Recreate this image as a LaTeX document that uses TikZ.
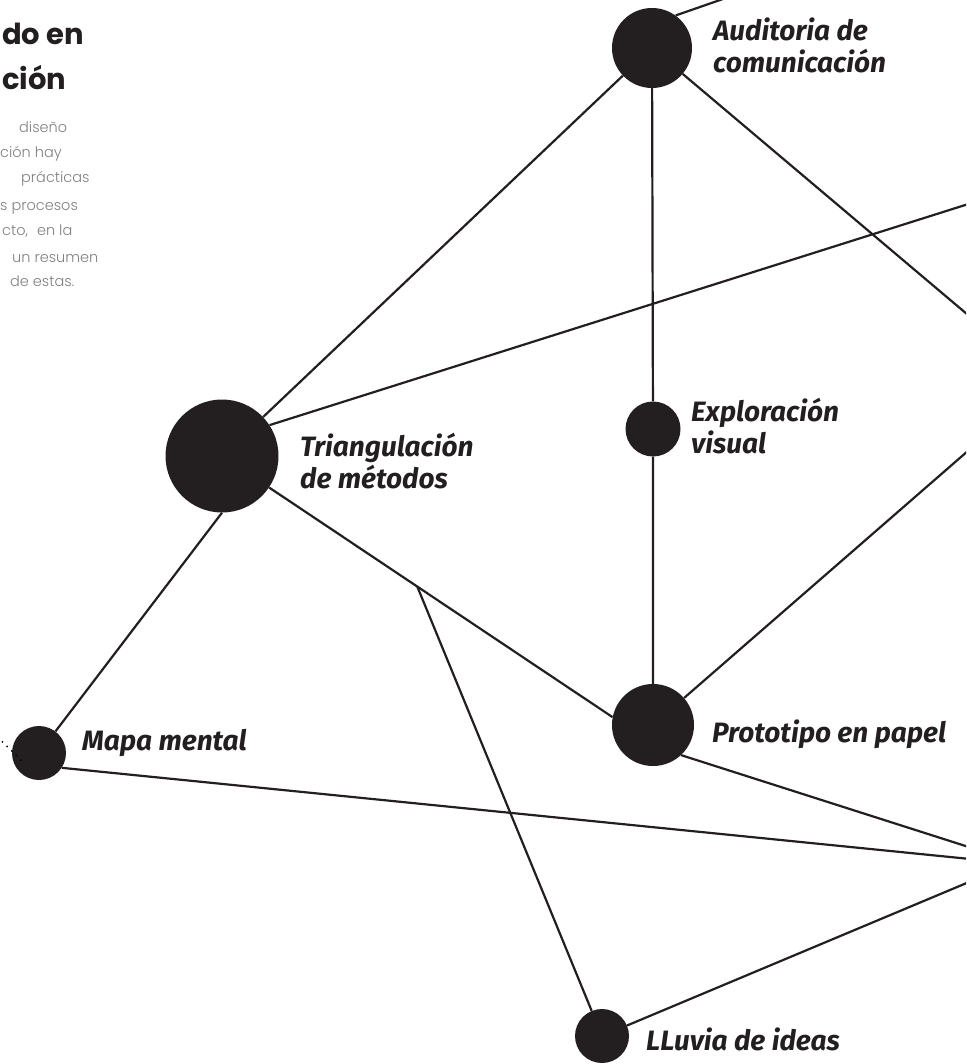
\documentclass[tikz,border=0pt]{standalone}
\usepackage{fontspec}
\setmainfont{Fira Sans}
\newfontfamily\headfont{Poppins}
\newfontfamily\bodyfont{Poppins}[UprightFont=* Light]
\usepackage{tikz}
\usetikzlibrary{
  calc,
  positioning
}
\definecolor{ink}{HTML}{231F20}
\colorlet{bodygrey}{black!50}
\tikzset{
  spot/.style={circle,fill=ink,inner sep=0pt},
  link/.style={draw=ink,line width=2.2pt},
  dots/.style={draw=black,line width=2pt,line cap=round,dash pattern=on 0pt off 6.5pt},
  tag/.style={font=\fontsize{28}{32}\selectfont\bfseries\itshape,text=ink,
    align=left,anchor=base west,inner sep=0pt},
  heading/.style={font=\headfont\bfseries\fontsize{29}{34}\selectfont,text=ink,
    anchor=base west,inner sep=0pt},
  blurb/.style={font=\bodyfont\fontsize{14.5}{18}\selectfont,text=bodygrey,
    anchor=base west,inner sep=0pt},
}

\begin{document}
\begin{tikzpicture}[x=1pt,y=-1pt]
\useasboundingbox (0,0) rectangle (966,1064);
\clip (0,0) rectangle (966,1064);
% title and intro, cut at the left edge
\node[heading] (head1) at (2,45) {do en};
\node[heading] (head2) at (2,90) {ción};
\node[blurb] (intro1) at (19,133) {diseño};
\node[blurb] (intro2) at (0,158) {ción hay};
\node[blurb] (intro3) at (21,183) {prácticas};
\node[blurb] (intro4) at (0,211) {s procesos};
\node[blurb] (intro5) at (2,236) {cto,\hspace{5pt} en la};
\node[blurb] (intro6) at (12,262) {un resumen};
\node[blurb] (intro7) at (10,287) {de estas.};
% methods
\node[spot,minimum size=80pt] (audit) at (652,48) {};
\node[spot,minimum size=113pt] (tri) at (222,456) {};
\node[spot,minimum size=55pt] (expl) at (653,429) {};
\node[spot,minimum size=82pt] (proto) at (653,725) {};
\node[spot,minimum size=54pt] (mapa) at (39,753) {};
\node[spot,minimum size=54pt] (lluvia) at (602,1036) {};
% base of a two-line tag is its second line
\node[tag] (audit-lbl) at (713,73) {Auditoria de\\comunicación};
\node[tag] (tri-lbl) at (300,488) {Triangulación\\de métodos};
\node[tag] (expl-lbl) at (691,453) {Exploración\\visual};
\node[tag] (proto-lbl) at (712,742) {Prototipo en papel};
\node[tag] (mapa-lbl) at (82,750) {Mapa mental};
\node[tag] (lluvia-lbl) at (646,1050) {LLuvia de ideas};
% ends beyond the page
\coordinate (out1) at (766,-16);
\coordinate (out2) at (1000,342);
\coordinate (out3) at (1000,194);
\coordinate (out4) at (1000,869);
\coordinate (out5) at (1000,857);
\coordinate (out6) at (1000,423);
\coordinate (out7) at (1000,862);
\coordinate (fork) at ($(tri)!0.5!(proto.169)$);
\coordinate (dotsrc) at (-30,710);
\coordinate (dotend) at ($(mapa)+(-15,10)$);
% links
\draw[link] (audit.54) -- (out1);
\draw[link] (audit) -- (tri);
\draw[link] (audit) -- (expl) -- (proto);
\draw[link] (audit) -- (out2);
\draw[link] (tri.33) -- (out3);
\draw[link] (tri.south) -- (mapa);
\draw[link] (tri) -- (proto.169);
\draw[link] (fork) -- (lluvia);
\draw[link] (lluvia) -- (out4);
\draw[link] (proto.-47) -- (out5);
\draw[link] (proto) -- (out6);
\draw[link] (mapa.-33) -- (out7);
\draw[dots] (dotsrc) -- (dotend);
\end{tikzpicture}
\end{document}
